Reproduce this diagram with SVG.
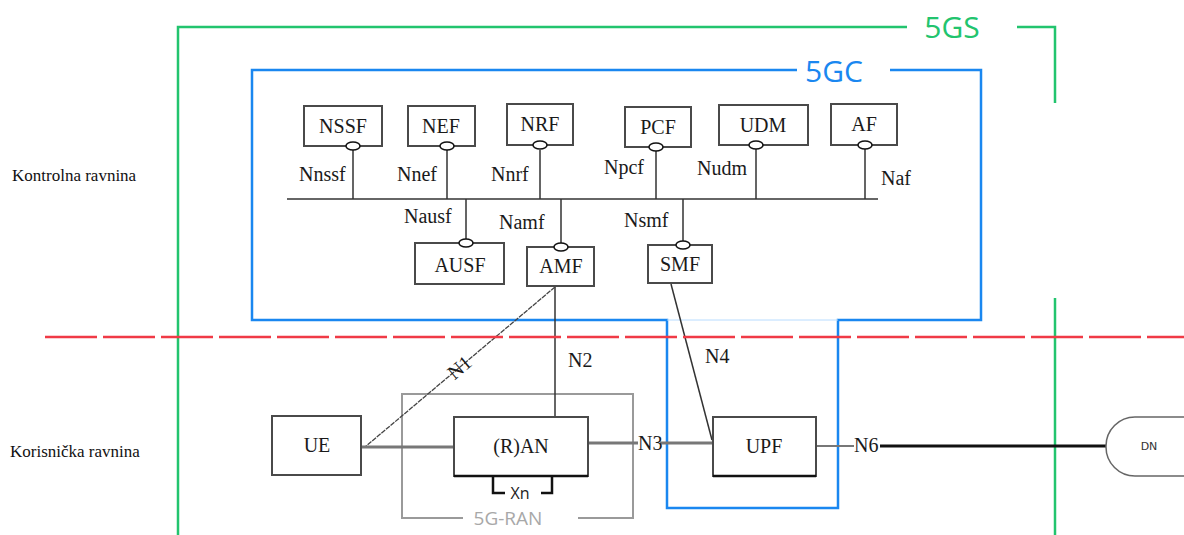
<svg xmlns="http://www.w3.org/2000/svg" width="1184" height="535" viewBox="0 0 1184 535">
<style>
.box{fill:#fff;stroke:#4a4a4a;stroke-width:2}
.lbl{font-family:'Liberation Serif','Times New Roman',Times,serif;font-size:20px;fill:#1a1a1a}
.blbl{font-family:'Liberation Serif','Times New Roman',Times,serif;font-size:20px;fill:#1a1a1a;text-anchor:middle}
.side{font-family:'Liberation Serif','Times New Roman',Times,serif;font-size:17px;fill:#111}
.port{fill:#fff;stroke:#111;stroke-width:1.5}
.ln{stroke:#333;stroke-width:1.5;fill:none}
.gr{stroke:#777;stroke-width:3;fill:none}
</style>
<rect width="1184" height="535" fill="#fff"/>
<g id="frame-5gs" fill="none" stroke="#22c46e" stroke-width="2.5">
<path d="M178,535 V27 H907 M1017,27 H1055 V103"/>
<path d="M1055,298 V535"/>
<text x="952" y="38" font-family="Open Sans,sans-serif" font-size="30" fill="#22c46e" stroke="none" text-anchor="middle">5GS</text>
</g>
<g id="frame-5gc" fill="none" stroke="#1a87f0" stroke-width="2.5">
<path d="M797,70 H252 V320 H667 V508 H838 V320 H981 V70 H890"/>
<path d="M667,320 H838" stroke="#b8dcff" stroke-width="1"/>
<text x="834" y="82" font-family="Open Sans,sans-serif" font-size="30" fill="#1a87f0" stroke="none" text-anchor="middle">5GC</text>
</g>
<g id="frame-5g-ran" fill="none" stroke="#9a9a9a" stroke-width="2">
<path d="M463,518 H402 V394 H633 V518 H578"/>
<text x="508" y="525" font-family="Open Sans,sans-serif" font-size="19" fill="#a8a8a8" stroke="none" text-anchor="middle">5G-RAN</text>
</g>
<g id="connectors">
<path class="ln" d="M287,199 H878"/>
<path class="ln" d="M353,150 V199 M447,150 V199 M540,150 V199 M656,151 V199 M756,149 V199 M865,149 V199"/>
<path class="ln" d="M466,199 V239 M561,199 V243 M683,199 V241"/>
<path class="ln" d="M555,287 V417"/>
<path d="M555,287 L365,447" stroke="#444" stroke-width="1.3" stroke-dasharray="5 1" fill="none"/>
<path class="ln" d="M671,284 L712,440"/>
<path class="gr" d="M361,447 H454"/>
<path class="gr" d="M588,443 H638 M660,443 H712"/>
<path d="M816,446 H854" stroke="#777" stroke-width="2" fill="none"/>
<path d="M880,446 H1106" stroke="#111" stroke-width="3" fill="none"/>
<path d="M493,476 V493 H505 M541,493 H552 V476" stroke="#111" stroke-width="2.5" fill="none"/>
<text class="lbl" x="299" y="181">Nnssf</text>
<text class="lbl" x="397" y="181">Nnef</text>
<text class="lbl" x="491" y="181">Nnrf</text>
<text class="lbl" x="604" y="174">Npcf</text>
<text class="lbl" x="697" y="175">Nudm</text>
<text class="lbl" x="881" y="185">Naf</text>
<text class="lbl" x="404" y="223">Nausf</text>
<text class="lbl" x="499" y="229">Namf</text>
<text class="lbl" x="624" y="227">Nsmf</text>
<text class="lbl" x="568" y="367">N2</text>
<text class="lbl" x="705" y="363">N4</text>
<text class="lbl" x="638" y="450">N3</text>
<text class="lbl" x="854" y="452">N6</text>
<text class="lbl" transform="translate(460,368) rotate(-40)" x="0" y="6" text-anchor="middle">N1</text>
<text x="520" y="499" font-family="Open Sans,sans-serif" font-size="16" fill="#222" text-anchor="middle">Xn</text>
</g>
<g id="nssf"><rect class="box" x="304" y="106" width="78" height="40"/><text class="blbl" x="343" y="133">NSSF</text><ellipse class="port" cx="353" cy="146" rx="7" ry="4"/></g>
<g id="nef"><rect class="box" x="408" y="106" width="67" height="40"/><text class="blbl" x="441" y="133">NEF</text><ellipse class="port" cx="447" cy="146" rx="7" ry="4"/></g>
<g id="nrf"><rect class="box" x="507" y="104" width="66" height="41"/><text class="blbl" x="540" y="131">NRF</text><ellipse class="port" cx="540" cy="145" rx="7" ry="4"/></g>
<g id="pcf"><rect class="box" x="625" y="107" width="66" height="40"/><text class="blbl" x="658" y="134">PCF</text><ellipse class="port" cx="656" cy="147" rx="7" ry="4"/></g>
<g id="udm"><rect class="box" x="719" y="105" width="89" height="40"/><text class="blbl" x="763" y="132">UDM</text><ellipse class="port" cx="756" cy="145" rx="7" ry="4"/></g>
<g id="af"><rect class="box" x="831" y="104" width="66" height="41"/><text class="blbl" x="864" y="131">AF</text><ellipse class="port" cx="865" cy="145" rx="7" ry="4"/></g>
<g id="ausf"><rect class="box" x="415" y="243" width="89" height="41"/><text class="blbl" x="460" y="272">AUSF</text><ellipse class="port" cx="466" cy="243" rx="7" ry="4"/></g>
<g id="amf"><rect class="box" x="527" y="247" width="67" height="39"/><text class="blbl" x="561" y="273">AMF</text><ellipse class="port" cx="561" cy="247" rx="7" ry="4"/></g>
<g id="smf"><rect class="box" x="648" y="245" width="64" height="38"/><text class="blbl" x="680" y="271">SMF</text><ellipse class="port" cx="683" cy="245" rx="7" ry="4"/></g>
<g id="ue"><rect class="box" x="272" y="416" width="89" height="59"/><text class="blbl" x="317" y="452">UE</text></g>
<g id="ran"><rect class="box" x="454" y="417" width="134" height="59"/><path d="M454,476 H588" stroke="#111" stroke-width="2.5"/><text class="blbl" x="521" y="453">(R)AN</text></g>
<g id="upf"><rect class="box" x="713" y="417" width="103" height="59"/><path d="M713,476 H816" stroke="#111" stroke-width="2.5"/><text class="blbl" x="764" y="453">UPF</text></g>
<g id="dn"><rect x="1106" y="417" width="120" height="59" rx="29" fill="#fff" stroke="#666" stroke-width="1.5"/><text x="1149" y="450" font-family="DejaVu Sans,sans-serif" font-size="11" fill="#333" text-anchor="middle">DN</text></g>
<g id="plane-divider"><path d="M45,337 H1184" stroke="#f03a46" stroke-width="2.5" stroke-dasharray="52 6" fill="none"/></g>
<text class="side" x="12" y="181">Kontrolna ravnina</text>
<text class="side" x="10" y="457">Korisnička ravnina</text>
</svg>
